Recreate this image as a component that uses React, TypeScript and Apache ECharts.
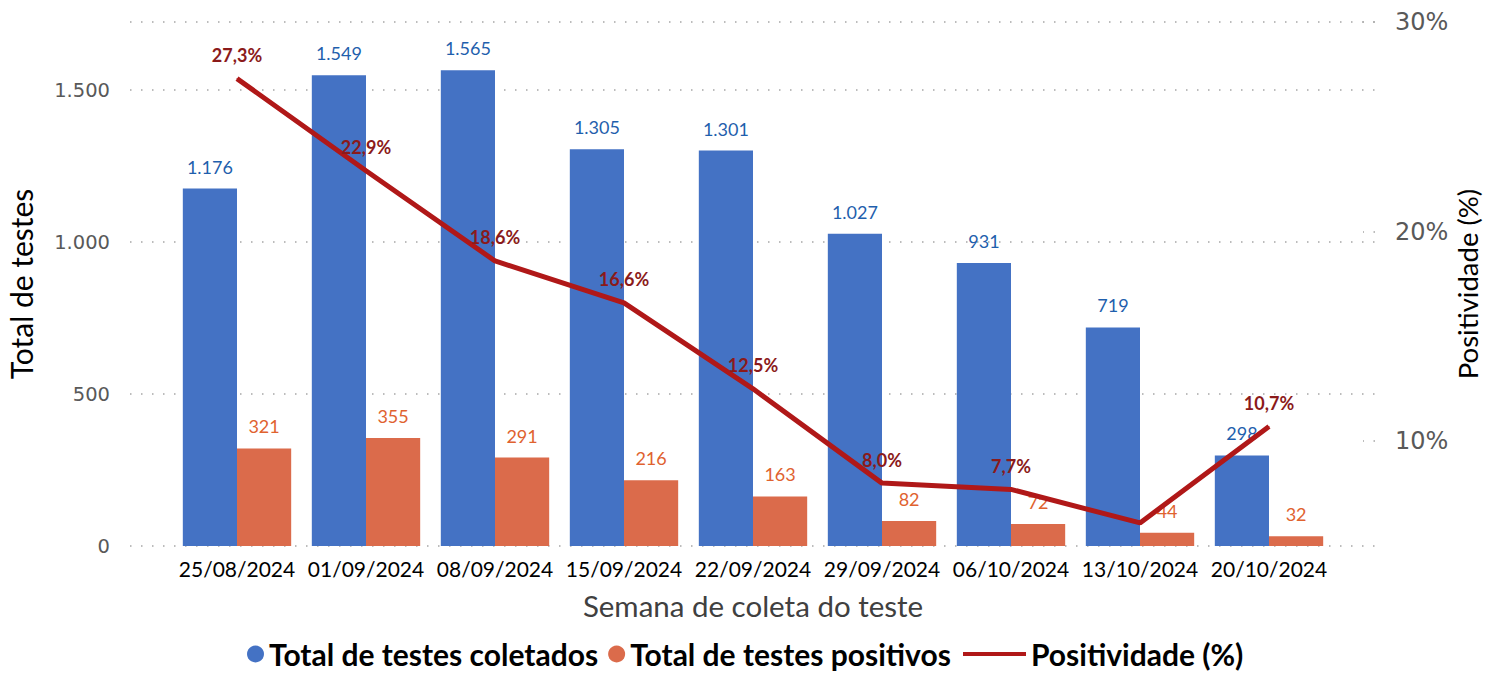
import React, { useEffect, useRef } from "react";
import * as echarts from "echarts";

const weeks = [
  "25/08/2024",
  "01/09/2024",
  "08/09/2024",
  "15/09/2024",
  "22/09/2024",
  "29/09/2024",
  "06/10/2024",
  "13/10/2024",
  "20/10/2024",
];
const totalTests = [1176, 1549, 1565, 1305, 1301, 1027, 931, 719, 298];
const positiveTests = [321, 355, 291, 216, 163, 82, 72, 44, 32];
const positivity = [27.3, 22.9, 18.6, 16.6, 12.5, 8.0, 7.7, 6.1, 10.7];
const positivityLabelShown = [true, true, true, true, true, true, true, false, true];
const rightTicks = [10, 20, 30];

const FONT = "Lato, 'Open Sans', sans-serif";
const AXFONT = "'DejaVu Sans', sans-serif";
const fmtThousands = (n: number) =>
  String(Math.round(n)).replace(/\B(?=(\d{3})+(?!\d))/g, ".");
const fmtPct = (n: number) => n.toFixed(1).replace(".", ",") + "%";

export default function App() {
  const ref = useRef<HTMLDivElement>(null);
  useEffect(() => {
    document.body.style.margin = "0";
    if (!ref.current) return;
    const chart = echarts.init(ref.current, null, { renderer: "svg" });
    const dotted = { color: "#a6a6a6", width: 1.5, type: [1.5, 9.5] as any };
    const legendText = {
      fontFamily: FONT,
      fontWeight: "bold",
      fontSize: 30,
      color: "#000",
    };
    chart.setOption({
      animation: false,
      textStyle: { fontFamily: FONT },
      grid: [
        { left: 130, right: 122, top: 22, bottom: 127, outerBoundsMode: "none" },
        { left: 172.5, right: 163.5, top: 22, bottom: 127, outerBoundsMode: "none" },
      ],
      legend: [
        {
          left: 242,
          top: 634,
          itemWidth: 17,
          itemHeight: 17,
          itemGap: 10,
          icon: "circle",
          data: ["Total de testes coletados", "Total de testes positivos"],
          textStyle: legendText,
        },
        {
          left: 958,
          top: 634,
          itemWidth: 63,
          itemHeight: 4,
          icon: "rect",
          data: ["Positividade (%)"],
          textStyle: legendText,
        },
      ],
      xAxis: [
        { gridIndex: 0, type: "value", show: false },
        {
          gridIndex: 1,
          type: "category",
          data: weeks,
          axisLine: { show: false },
          axisTick: { show: false },
          axisLabel: { color: "#000", fontSize: 21, margin: 12, interval: 0, fontFamily: FONT },
          name: "Semana de coleta do teste",
          nameLocation: "middle",
          nameGap: 44,
          nameTextStyle: { color: "#404040", fontSize: 29.5, fontFamily: FONT },
        },
      ],
      yAxis: [
        {
          gridIndex: 0,
          type: "value",
          position: "left",
          min: 0,
          max: 1724,
          interval: 500,
          axisLine: { show: false },
          axisTick: { show: false },
          splitLine: { show: true, lineStyle: dotted },
          axisLabel: {
            color: "#595959",
            fontSize: 19.5,
            margin: 20,
            fontFamily: AXFONT,
            showMaxLabel: false,
            formatter: (v: number) => fmtThousands(v),
          },
          name: "Total de testes",
          nameLocation: "middle",
          nameRotate: 90,
          nameGap: 94,
          nameTextStyle: { color: "#000", fontSize: 30, fontFamily: FONT },
        },
        {
          gridIndex: 0,
          type: "value",
          position: "right",
          min: 5,
          max: 30,
          interval: 5,
          axisLine: { show: false },
          splitLine: { show: false },
          axisTick: {
            show: true,
            inside: true,
            length: 12,
            customValues: rightTicks,
            lineStyle: dotted,
          },
          axisLabel: {
            color: "#595959",
            fontSize: 24,
            margin: 20,
            fontFamily: AXFONT,
            customValues: rightTicks,
            formatter: (v: number) => v + "%",
          },
          name: "Positividade (%)",
          nameLocation: "middle",
          nameRotate: 90,
          nameGap: 78,
          nameMoveOverlap: false,
          nameTextStyle: { color: "#000", fontSize: 27.5, fontFamily: FONT },
        },
        { gridIndex: 1, type: "value", min: 0, max: 1724, show: false, splitLine: { show: false } },
        { gridIndex: 1, type: "value", min: 5, max: 30, show: false, splitLine: { show: false } },
      ],
      series: [
        {
          name: "Total de testes coletados",
          type: "bar",
          xAxisIndex: 1,
          yAxisIndex: 2,
          data: totalTests,
          barGap: "0%",
          barCategoryGap: "16%",
          z: 2,
          itemStyle: { color: "#4472C4" },
          label: {
            show: true,
            position: "top",
            distance: 13,
            color: "#1F5FAD",
            fontSize: 18,
            fontFamily: FONT,
            formatter: (p: any) => fmtThousands(p.value),
          },
        },
        {
          name: "Total de testes positivos",
          type: "bar",
          xAxisIndex: 1,
          yAxisIndex: 2,
          data: positiveTests,
          z: 2,
          itemStyle: { color: "#DB6B4B" },
          label: {
            show: true,
            position: "top",
            distance: 13,
            color: "#E0622F",
            fontSize: 18,
            fontFamily: FONT,
            formatter: (p: any) => fmtThousands(p.value),
          },
        },
        {
          name: "Positividade (%)",
          type: "line",
          xAxisIndex: 1,
          yAxisIndex: 3,
          z: 5,
          showSymbol: true,
          symbol: "circle",
          symbolSize: 1,
          data: positivity.map((v, i) => ({
            value: v,
            label: { show: positivityLabelShown[i] },
          })),
          itemStyle: { color: "#B01818" },
          lineStyle: { color: "#B01818", width: 5 },
          label: {
            show: true,
            position: "top",
            distance: 14,
            color: "#8B1A1A",
            fontWeight: "bold",
            fontSize: 18,
            fontFamily: FONT,
            formatter: (p: any) => fmtPct(p.value),
          },
        },
      ],
    });
    return () => chart.dispose();
  }, []);
  return <div ref={ref} style={{ width: 1497, height: 673 }} />;
}
